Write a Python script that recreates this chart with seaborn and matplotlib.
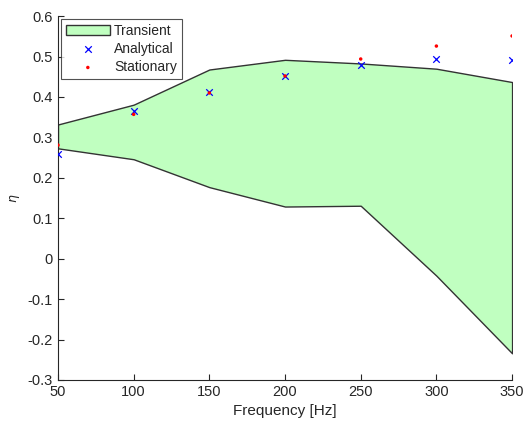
import matplotlib
matplotlib.use("Agg")
import matplotlib.pyplot as plt
import seaborn as sns
import numpy as np
import pandas as pd

freq = [50, 100, 150, 200, 250, 300, 350]
transient_upper = [0.332, 0.381, 0.468, 0.492, 0.483, 0.470, 0.437]
transient_lower = [0.273, 0.246, 0.177, 0.129, 0.131, -0.042, -0.234]
analytical = [0.260, 0.366, 0.413, 0.451, 0.478, 0.493, 0.491]
stationary = [0.281, 0.357, 0.410, 0.452, 0.494, 0.526, 0.551]
xticks = [50, 100, 150, 200, 250, 300, 350]
yticks = [-0.3, -0.2, -0.1, 0, 0.1, 0.2, 0.3, 0.4, 0.5, 0.6]

sns.set_style("ticks")
plt.rcParams['font.family'] = ['Liberation Sans', 'DejaVu Sans']

fig = plt.figure(figsize=(5.29, 4.25), dpi=100)
ax = fig.add_axes([0.1096, 0.106, 0.8584, 0.856])

df = pd.DataFrame({"f": freq, "up": transient_upper, "lo": transient_lower,
                   "an": analytical, "st": stationary})

ax.fill_between(df["f"], df["lo"], df["up"], facecolor="#c0ffc0",
                edgecolor="#333333", linewidth=1.0, label="Transient", zorder=1)
sns.scatterplot(data=df, x="f", y="an", marker="x", color="#0000ff", s=22,
                linewidth=0.9, label="Analytical", ax=ax, zorder=3)
sns.scatterplot(data=df, x="f", y="st", marker=".", color="#ff0000", s=25,
                edgecolor="none", label="Stationary", ax=ax, zorder=3)

ax.set_xlim(50, 350)
ax.set_ylim(-0.3, 0.6)
ax.set_xticks(xticks)
ax.set_yticks(yticks)
ax.set_yticklabels([("%g" % v) for v in yticks])
ax.tick_params(direction="in", length=4, width=0.8, colors="#262626",
               labelsize=10.5, labelcolor="#262626")
for s in ["left", "bottom"]:
    ax.spines[s].set_color("#262626")
    ax.spines[s].set_linewidth(0.8)
sns.despine(ax=ax)
ax.set_xlabel("Frequency [Hz]", fontsize=11, color="#262626")
ax.set_ylabel(r"$\eta$", fontsize=9, color="#262626")

leg = ax.legend(loc="upper left", fontsize=10, frameon=True, fancybox=False,
                edgecolor="#262626", borderpad=0.35, labelspacing=0.3,
                handlelength=3.2, handletextpad=0.3, borderaxespad=0.2)
leg.get_frame().set_linewidth(0.8)

fig.savefig("out.png", dpi=100)
